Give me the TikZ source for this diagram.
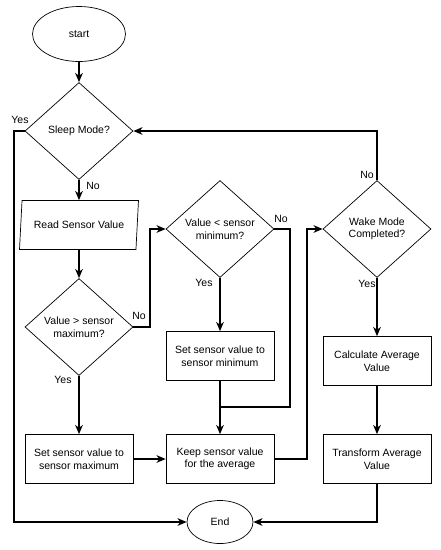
\documentclass[tikz,border=0pt]{standalone}
\usepackage{fontspec}
\setmainfont{Liberation Sans}
\usetikzlibrary{shapes.geometric,arrows.meta}

\begin{document}
\begin{tikzpicture}[
    x=1pt, y=-1pt,
    font=\fontsize{10.5}{12.5}\selectfont,
    terminal/.style={ellipse, draw, line width=0.7pt, minimum width=93pt, minimum height=55pt},
    decision/.style={diamond, draw, line width=0.7pt, align=center, inner sep=0pt, minimum width=108pt, minimum height=97pt},
    process/.style={rectangle, draw, line width=0.7pt, align=center, minimum width=108pt, minimum height=49pt},
    io/.style={trapezium, trapezium left angle=80, trapezium right angle=100, trapezium stretches body=true, draw, line width=0.7pt, minimum width=119pt, minimum height=49pt},
    lbl/.style={inner sep=1pt},
    line/.style={line width=1.6pt},
    arrow/.style={line width=1.6pt, -{Stealth[length=9pt, width=7.5pt, inset=2.5pt]}}
]
    \useasboundingbox (0,0) rectangle (441,550);
    % Left column
    \node[terminal] (start) at (79,34) {start};
    \node[decision] (sleep) at (79,131) {Sleep Mode?};
    \node[io] (read) at (79,225) {Read Sensor Value};
    \node[decision] (max) at (79,327) {Value > sensor\\maximum?};
    \node[process] (setmax) at (79,459) {Set sensor value to\\sensor maximum};
    % Middle column
    \node[decision] (min) at (220,229) {Value < sensor\\minimum?};
    \node[process] (setmin) at (220,356) {Set sensor value to\\sensor minimum};
    \node[process] (keep) at (220,459) {Keep sensor value\\for the average};
    \node[terminal, minimum width=66pt, minimum height=43pt] (finish) at (220,522) {End};
    % Right column
    \node[decision] (wake) at (377,229) {Wake Mode\\Completed?};
    \node[process] (calc) at (377,361) {Calculate Average\\Value};
    \node[process] (trans) at (377,459) {Transform Average\\Value};
    % Bends
    \coordinate (leftrail) at (14,131);
    \coordinate (nomax) at (150,229);
    \coordinate (nomin) at (290,407);
    \coordinate (join) at (220,407);
    \coordinate (tokeep) at (307,229);
    % Labels
    \node[lbl] (yes1) at (20,120) {Yes};
    \node[lbl] (no1) at (93,186) {No};
    \node[lbl] (no2) at (139,316) {No};
    \node[lbl] (yes2) at (63,380) {Yes};
    \node[lbl] (no3) at (281,219) {No};
    \node[lbl] (yes3) at (204,283) {Yes};
    \node[lbl] (no4) at (367,175) {No};
    \node[lbl] (yes4) at (367,284) {Yes};
    % Connectors
    \draw[arrow] (start) -- (sleep);
    \draw[arrow] (sleep) -- (read);
    \draw[arrow] (read) -- (max);
    \draw[arrow] (max) -- (setmax);
    \draw[arrow] (setmax) -- (keep);
    \draw[arrow] (sleep.west) -- (leftrail) |- (finish.west);
    \draw[arrow] (max.east) -| (nomax) -- (min.west);
    \draw[arrow] (min) -- (setmin);
    \draw[line] (min.east) -| (nomin) -- (join);
    \draw[arrow] (setmin) -- (keep);
    \draw[arrow] (keep.east) -| (tokeep) -- (wake.west);
    \draw[arrow] (wake.north) |- (sleep.east);
    \draw[arrow] (wake) -- (calc);
    \draw[arrow] (calc) -- (trans);
    \draw[arrow] (trans.south) |- (finish.east);
\end{tikzpicture}
\end{document}
